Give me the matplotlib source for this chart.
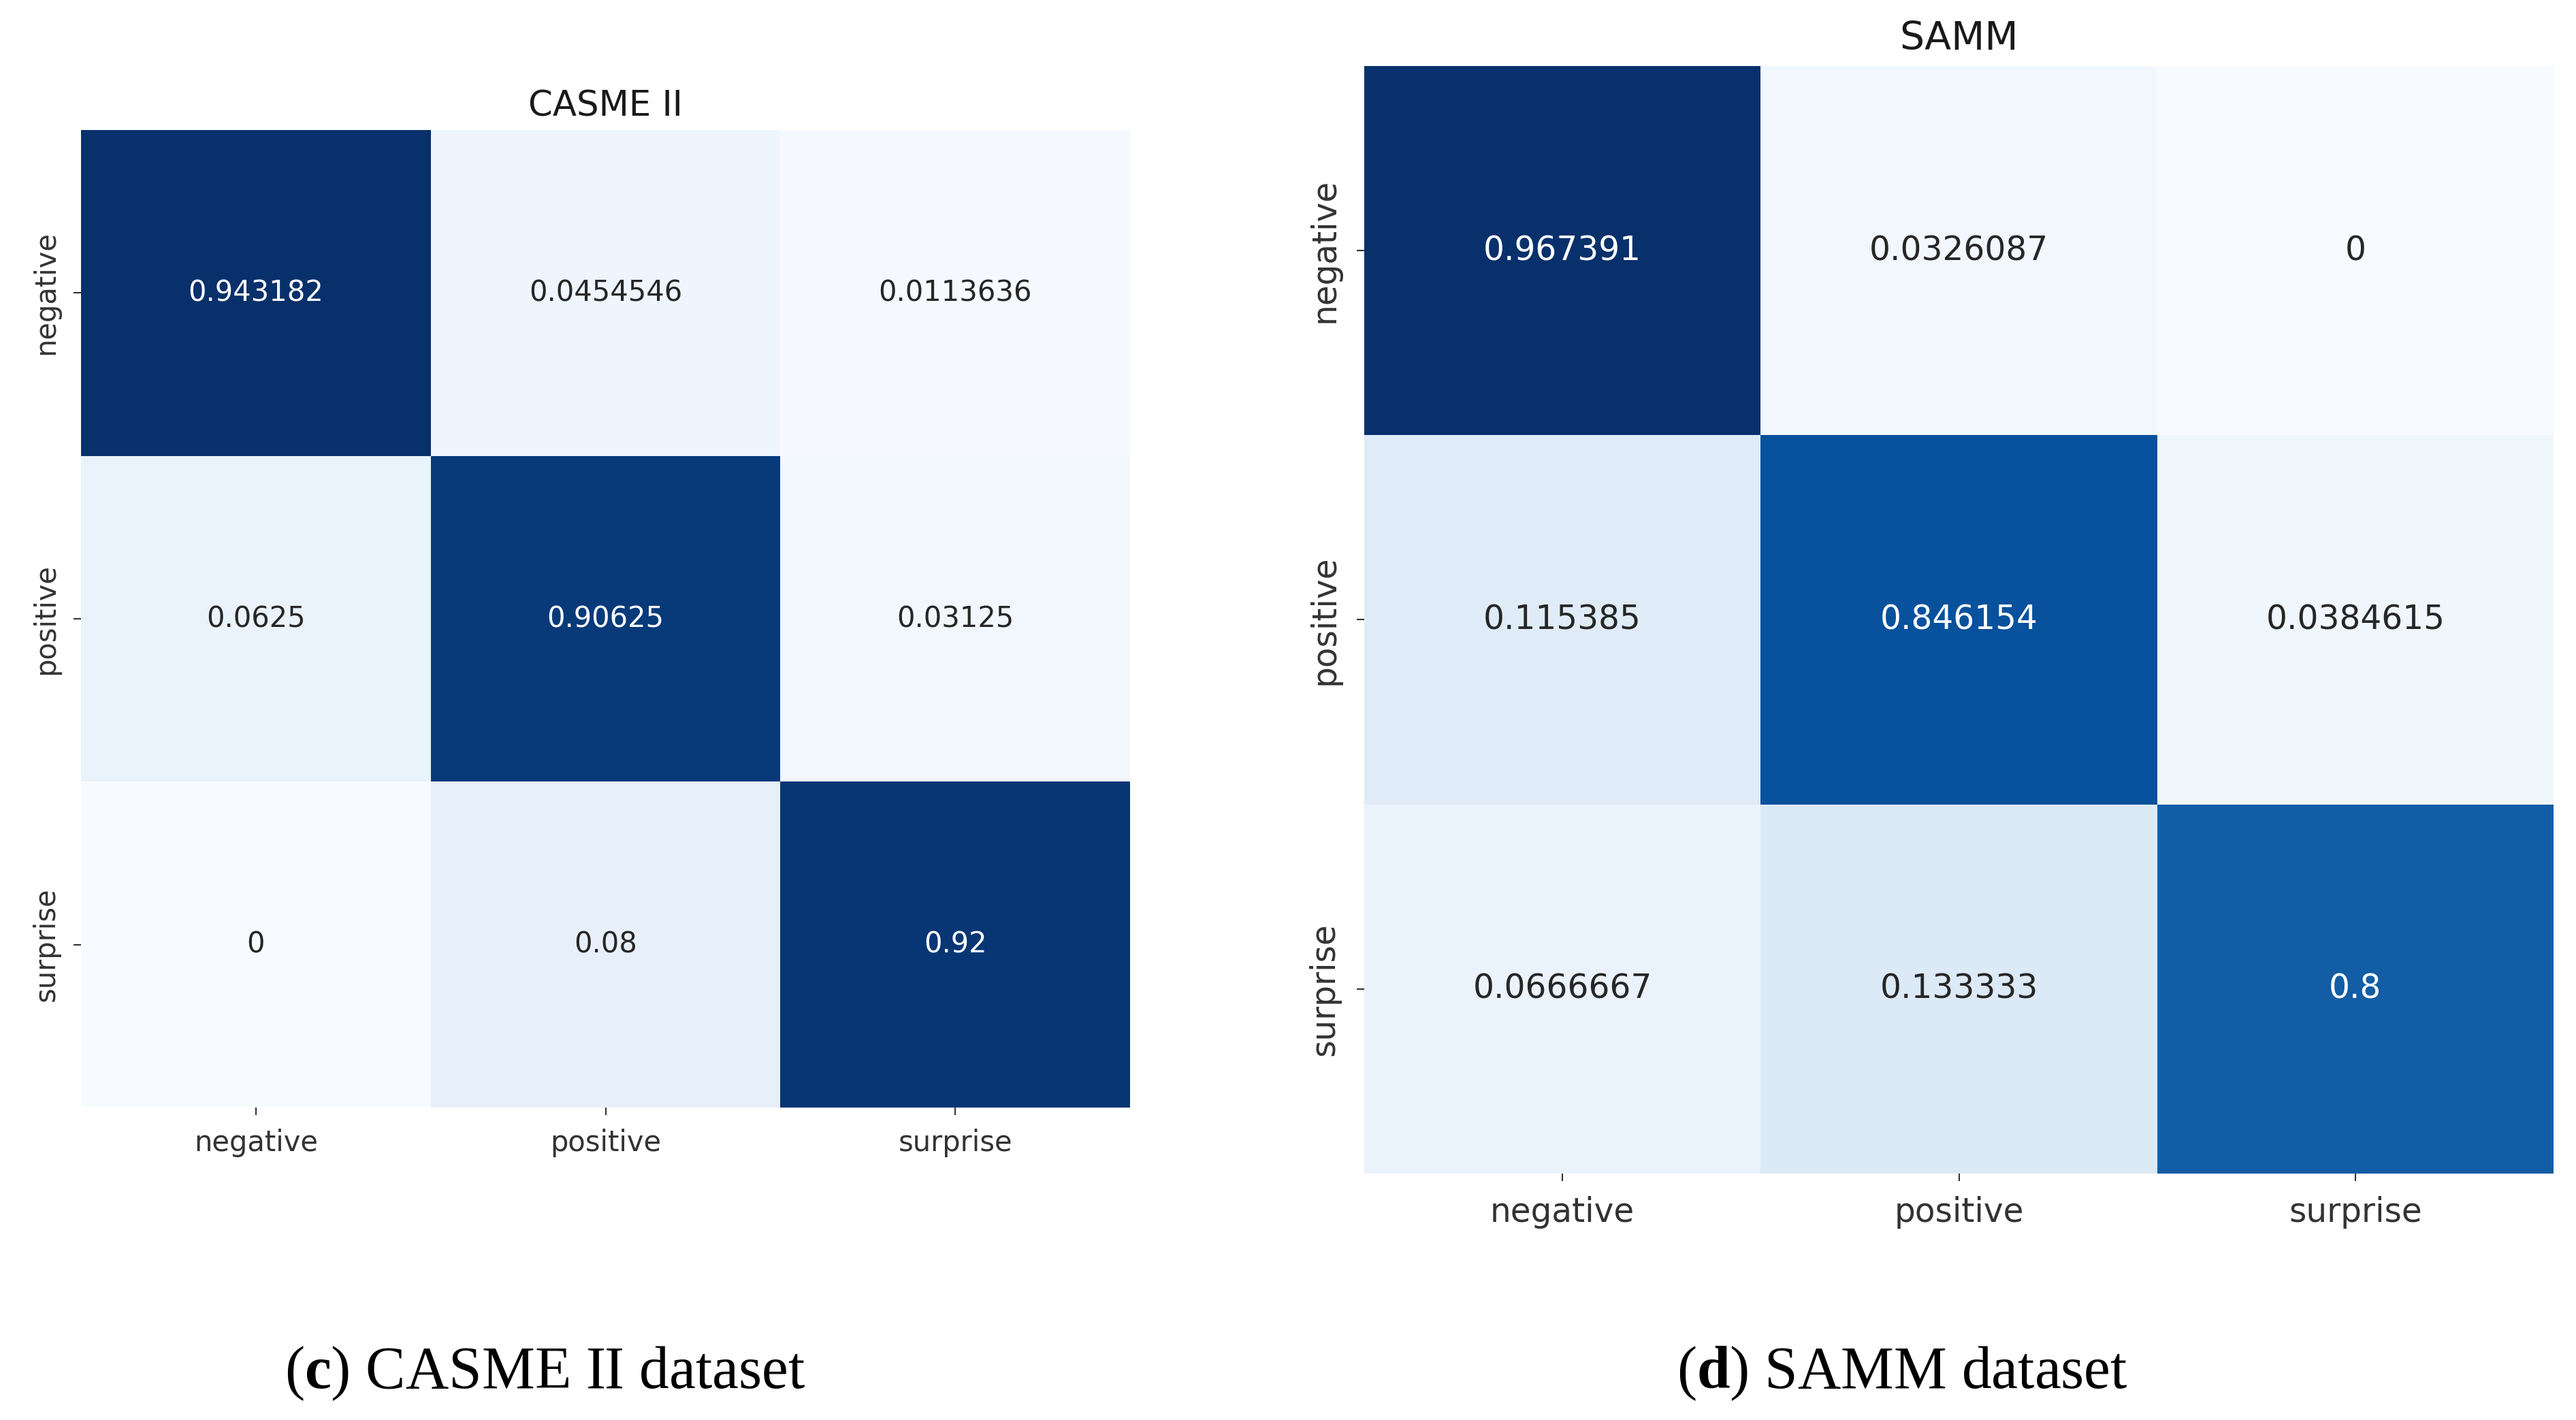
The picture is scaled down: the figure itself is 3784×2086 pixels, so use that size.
import numpy as np
import matplotlib
matplotlib.use("Agg")
import matplotlib.pyplot as plt
import seaborn as sns

labels = ["negative", "positive", "surprise"]
casme_values = [[0.943182, 0.0454546, 0.0113636],
                [0.0625, 0.90625, 0.03125],
                [0.0, 0.08, 0.92]]
samm_values = [[0.967391, 0.0326087, 0.0],
               [0.115385, 0.846154, 0.0384615],
               [0.0666667, 0.133333, 0.8]]
titles = ["CASME II", "SAMM"]
captions = [("c", " CASME II dataset"), ("d", " SAMM dataset")]

plt.rcParams['font.family'] = ['DejaVu Sans']
plt.rcParams['mathtext.fontset'] = 'custom'
plt.rcParams['mathtext.bf'] = 'Liberation Serif:bold'
plt.rcParams['mathtext.rm'] = 'Liberation Serif'

W, H = 3784, 2086
fig = plt.figure(figsize=(W / 100, H / 100), dpi=100)

def box(x0, y0, x1, y1):
    return [x0 / W, 1 - y1 / H, (x1 - x0) / W, (y1 - y0) / H]

specs = [
    dict(rect=box(119, 191, 1660, 1627), data=casme_values, fs=30, tfs=37,
         tpad=15, xpad=14, ypad=14),
    dict(rect=box(2004, 97, 3751, 1724), data=samm_values, fs=35, tfs=41,
         tpad=17, xpad=16, ypad=17),
]

for i, s in enumerate(specs):
    ax = fig.add_axes(s["rect"])
    sns.heatmap(np.array(s["data"]), ax=ax, cmap="Blues", annot=True, fmt="g",
                cbar=False, annot_kws={"fontsize": s["fs"]},
                xticklabels=labels, yticklabels=labels)
    ax.set_title(titles[i], fontsize=s["tfs"], pad=s["tpad"], color="#1a1a1a")
    ax.tick_params(axis="x", labelsize=s["fs"], length=8, width=1.5, pad=s["xpad"],
                   colors="#333333")
    ax.tick_params(axis="y", labelsize=s["fs"], length=8, width=1.5, pad=s["ypad"],
                   colors="#333333")
    plt.setp(ax.get_yticklabels(), rotation=90, va="center")
    plt.setp(ax.get_xticklabels(), rotation=0)

cap_x = [801 / W, 2794 / W]
for i, (b, rest) in enumerate(captions):
    fig.text(cap_x[i], 1 - 2018 / H, "(" + r"$\mathbf{" + b + "}$" + ")" + rest,
             fontsize=63, family="Liberation Serif", ha="center", va="center",
             color="black")

fig.savefig("out.png", dpi=100)
